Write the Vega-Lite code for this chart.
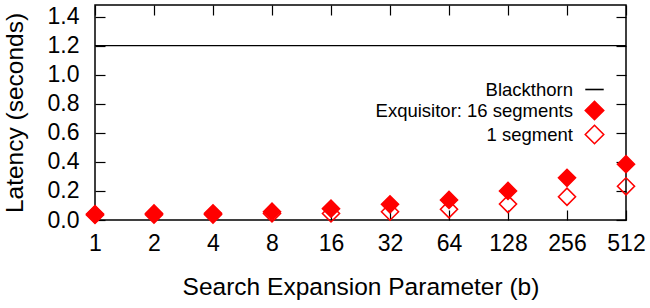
{
  "$schema": "https://vega.github.io/schema/vega-lite/v6.json",
  "width": 531,
  "height": 215,
  "autosize": {"type": "none"},
  "padding": {"left": 95, "top": 5, "right": 24, "bottom": 88},
  "background": "white",
  "config": {
    "font": "Liberation Sans",
    "view": {"stroke": "black", "strokeWidth": 1.5},
    "axis": {"grid": false, "labelColor": "black", "titleColor": "black", "titleFontWeight": "normal", "domain": false, "tickColor": "black", "tickWidth": 1.2}
  },
  "data": {
    "values": [
      {"series": "Blackthorn", "b": 1, "latency": 1.2},
      {"series": "Blackthorn", "b": 2, "latency": 1.2},
      {"series": "Blackthorn", "b": 4, "latency": 1.2},
      {"series": "Blackthorn", "b": 8, "latency": 1.2},
      {"series": "Blackthorn", "b": 16, "latency": 1.2},
      {"series": "Blackthorn", "b": 32, "latency": 1.2},
      {"series": "Blackthorn", "b": 64, "latency": 1.2},
      {"series": "Blackthorn", "b": 128, "latency": 1.2},
      {"series": "Blackthorn", "b": 256, "latency": 1.2},
      {"series": "Blackthorn", "b": 512, "latency": 1.2},
      {"series": "1 segment", "b": 1, "latency": 0.035},
      {"series": "1 segment", "b": 2, "latency": 0.037},
      {"series": "1 segment", "b": 4, "latency": 0.038},
      {"series": "1 segment", "b": 8, "latency": 0.045},
      {"series": "1 segment", "b": 16, "latency": 0.045},
      {"series": "1 segment", "b": 32, "latency": 0.057},
      {"series": "1 segment", "b": 64, "latency": 0.074},
      {"series": "1 segment", "b": 128, "latency": 0.11},
      {"series": "1 segment", "b": 256, "latency": 0.16},
      {"series": "1 segment", "b": 512, "latency": 0.232},
      {"series": "Exquisitor: 16 segments", "b": 1, "latency": 0.041},
      {"series": "Exquisitor: 16 segments", "b": 2, "latency": 0.045},
      {"series": "Exquisitor: 16 segments", "b": 4, "latency": 0.046},
      {"series": "Exquisitor: 16 segments", "b": 8, "latency": 0.057},
      {"series": "Exquisitor: 16 segments", "b": 16, "latency": 0.078},
      {"series": "Exquisitor: 16 segments", "b": 32, "latency": 0.108},
      {"series": "Exquisitor: 16 segments", "b": 64, "latency": 0.138},
      {"series": "Exquisitor: 16 segments", "b": 128, "latency": 0.2},
      {"series": "Exquisitor: 16 segments", "b": 256, "latency": 0.29},
      {"series": "Exquisitor: 16 segments", "b": 512, "latency": 0.384}
    ]
  },
  "encoding": {
    "x": {"field": "b", "type": "quantitative",
      "scale": {"type": "log", "base": 2, "domain": [1, 512], "nice": false}},
    "y": {"field": "latency", "type": "quantitative",
      "scale": {"domain": [0, 1.48], "nice": false, "zero": true}}
  },
  "layer": [
    {
      "transform": [{"filter": "datum.series === 'Blackthorn'"}],
      "mark": {"type": "line", "color": "black", "strokeWidth": 1.3, "clip": false},
      "encoding": {
        "x": {"field": "b", "type": "quantitative",
          "axis": {"orient": "top", "values": [1, 2, 4, 8, 16, 32, 64, 128, 256, 512], "labels": false, "title": null, "tickSize": -10}},
        "y": {"field": "latency", "type": "quantitative",
          "axis": {"orient": "right", "values": [0, 0.2, 0.4, 0.6, 0.8, 1.0, 1.2, 1.4], "labels": false, "title": null, "tickSize": -10}}
      }
    },
    {
      "transform": [{"filter": "datum.series !== 'Blackthorn'"}],
      "mark": {"type": "point", "size": 290, "strokeWidth": 1.6, "opacity": 1, "clip": false},
      "encoding": {
        "x": {"field": "b", "type": "quantitative",
          "axis": {"orient": "bottom", "values": [1, 2, 4, 8, 16, 32, 64, 128, 256, 512], "format": "d", "labelFontSize": 23, "labelPadding": 22, "labelFlush": false, "tickSize": -10, "title": "Search Expansion Parameter (b)", "titleFontSize": 24.5, "titlePadding": 20}},
        "y": {"field": "latency", "type": "quantitative",
          "axis": {"orient": "left", "values": [0, 0.2, 0.4, 0.6, 0.8, 1.0, 1.2, 1.4], "format": ".1f", "labelFontSize": 23, "labelPadding": 26, "tickSize": -10, "title": "Latency (seconds)", "titleFontSize": 24.5, "titlePadding": 20}},
        "shape": {"field": "series", "type": "nominal",
          "scale": {"domain": ["Blackthorn", "Exquisitor: 16 segments", "1 segment"], "range": ["stroke", "diamond", "diamond"]},
          "legend": {"title": null, "orient": "none", "legendX": 489, "legendY": 74, "labelAlign": "right", "labelOffset": -32, "labelFontSize": 18.5, "labelColor": "black", "rowPadding": -1, "symbolSize": 340, "symbolStrokeWidth": 1.6, "labelLimit": 400}},
        "stroke": {"field": "series", "type": "nominal",
          "scale": {"domain": ["Blackthorn", "Exquisitor: 16 segments", "1 segment"], "range": ["black", "#ff0000", "#ff0000"]},
          "legend": {"title": null, "orient": "none", "legendX": 489, "legendY": 74, "labelAlign": "right", "labelOffset": -32, "labelFontSize": 18.5, "labelColor": "black", "rowPadding": -1, "symbolSize": 340, "symbolStrokeWidth": 1.6, "labelLimit": 400}},
        "fill": {"field": "series", "type": "nominal",
          "scale": {"domain": ["Blackthorn", "Exquisitor: 16 segments", "1 segment"], "range": ["transparent", "#ff0000", "transparent"]},
          "legend": {"title": null, "orient": "none", "legendX": 489, "legendY": 74, "labelAlign": "right", "labelOffset": -32, "labelFontSize": 18.5, "labelColor": "black", "rowPadding": -1, "symbolSize": 340, "symbolStrokeWidth": 1.6, "labelLimit": 400}}
      }
    }
  ],
  "resolve": {"axis": {"x": "independent", "y": "independent"}}
}
